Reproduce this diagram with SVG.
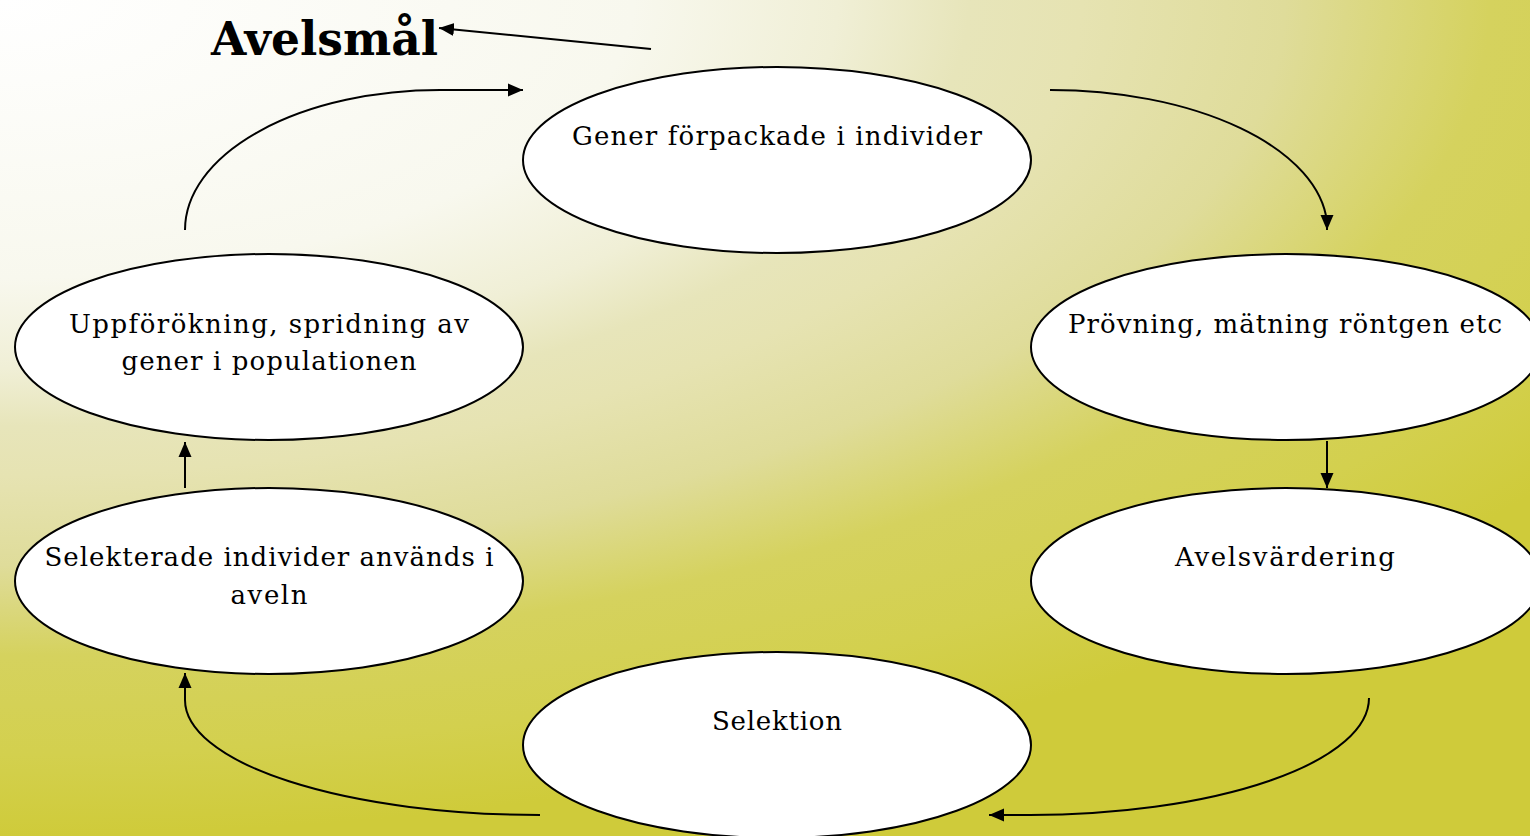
<svg xmlns="http://www.w3.org/2000/svg" width="1530" height="836" viewBox="0 0 1530 836">
  <defs>
    <radialGradient id="bg" gradientUnits="userSpaceOnUse" cx="0" cy="0" r="836" fx="0" fy="0" gradientTransform="scale(2.273,1)">
      <stop offset="0" stop-color="#ffffff"/>
      <stop offset="0.333" stop-color="#f8f8ee"/>
      <stop offset="0.441" stop-color="#f0efd6"/>
      <stop offset="0.51" stop-color="#e7e5ba"/>
      <stop offset="0.569" stop-color="#e6e3b2"/>
      <stop offset="0.676" stop-color="#dfdc9a"/>
      <stop offset="0.784" stop-color="#d5d25e"/>
      <stop offset="0.902" stop-color="#d3d04e"/>
      <stop offset="1" stop-color="#cfcb3a"/>
    </radialGradient>
    <marker id="arr" markerUnits="userSpaceOnUse" markerWidth="16" markerHeight="16" viewBox="0 0 16 16" refX="15" refY="8" orient="auto">
      <path d="M0,1.5 L15,8 L0,14.5 Z" fill="#000"/>
    </marker>
    <style>
      .node ellipse { fill: #ffffff; stroke: #000000; stroke-width: 2; }
      .node text { font-family: "DejaVu Serif", "Liberation Serif", serif; font-size: 26px; fill: #000; text-anchor: middle; }
      .conn path { fill: none; stroke: #000; stroke-width: 2; marker-end: url(#arr); }
      .title { font-family: "DejaVu Serif", "Liberation Serif", serif; font-weight: bold; font-size: 46px; fill: #000; }
    </style>
  </defs>
  <rect x="0" y="0" width="1530" height="836" fill="url(#bg)"/>

  <text class="title" x="211" y="55" textLength="227" lengthAdjust="spacingAndGlyphs">Avelsmål</text>

  <g id="n1" class="node">
    <ellipse cx="777" cy="160" rx="254" ry="93"/>
    <text x="777" y="145" textLength="410">Gener förpackade i individer</text>
  </g>
  <g id="n2" class="node">
    <ellipse cx="1286" cy="347" rx="255" ry="93"/>
    <text x="1285" y="333" textLength="434">Prövning, mätning röntgen etc</text>
  </g>
  <g id="n3" class="node">
    <ellipse cx="1286" cy="581" rx="255" ry="93"/>
    <text x="1285" y="566" textLength="220">Avelsvärdering</text>
  </g>
  <g id="n4" class="node">
    <ellipse cx="777" cy="745" rx="254" ry="93"/>
    <text x="777" y="730" textLength="130">Selektion</text>
  </g>
  <g id="n5" class="node">
    <ellipse cx="269" cy="581" rx="254" ry="93"/>
    <text x="269" y="566" textLength="449">Selekterade individer används i</text>
    <text x="269" y="604" textLength="77">aveln</text>
  </g>
  <g id="n6" class="node">
    <ellipse cx="269" cy="347" rx="254" ry="93"/>
    <text x="269" y="333" textLength="400">Uppförökning, spridning av</text>
    <text x="269" y="370" textLength="295">gener i populationen</text>
  </g>

  <g id="connectors" class="conn">
    <path d="M651,49 L439,28"/>
    <path d="M185,230 A255,140 0 0 1 440,90 L523,90"/>
    <path d="M1050,90 A277,140 0 0 1 1327,222 L1327,230"/>
    <path d="M1327,441 L1327,488"/>
    <path d="M1369,698 A339,117 0 0 1 1030,815 L989,815"/>
    <path d="M540,815 A355,115 0 0 1 185,700 L185,673"/>
    <path d="M185,488 L185,442"/>
  </g>
</svg>
